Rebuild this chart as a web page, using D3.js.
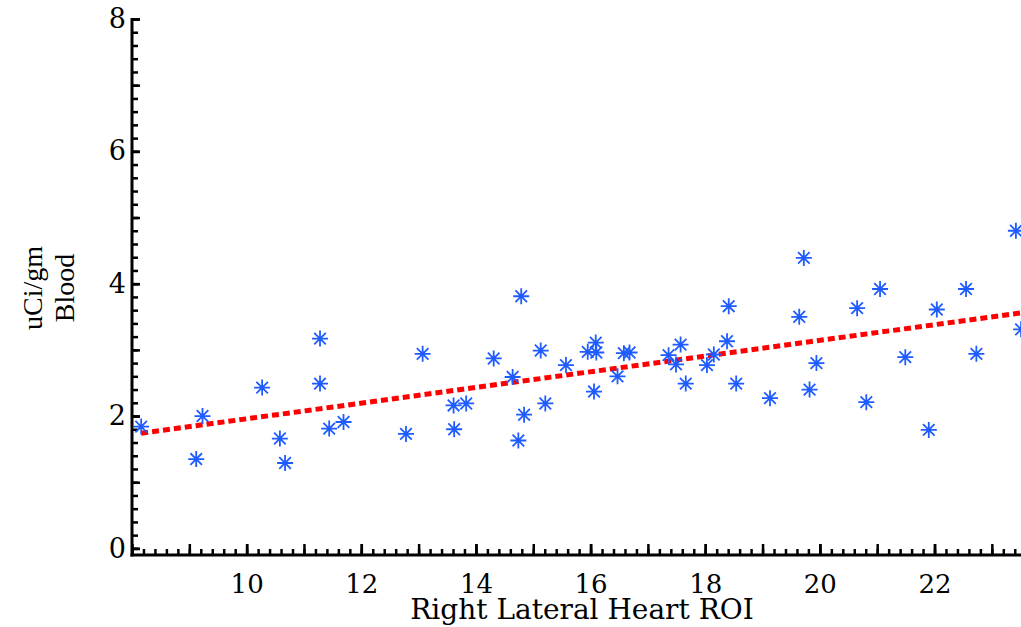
<!DOCTYPE html>
<html>
<head>
<meta charset="utf-8">
<script src="https://cdn.jsdelivr.net/npm/d3@7"></script>
<style>
  body { margin: 0; background: #fff; }
  svg { display: block; }
  .tick text { font-family: "DejaVu Serif", serif; fill: #000; }
</style>
</head>
<body>
<svg id="chart" width="1021" height="627"></svg>
<script>
// ---- data ----
const xVals = [8.16, 9.12, 9.23, 10.27, 10.58, 10.67, 11.28, 11.28, 11.44, 11.69,
               12.78, 13.07, 13.61, 13.62, 13.83, 14.31, 14.64, 14.74, 14.79, 14.84,
               15.13, 15.21, 15.57, 15.95, 16.06, 16.09, 16.10, 16.47, 16.58, 16.68,
               17.36, 17.49, 17.57, 17.66, 18.03, 18.15, 18.38, 18.41, 18.54, 19.13,
               19.64, 19.72, 19.82, 19.94, 20.65, 20.81, 21.05, 21.49, 21.90, 22.04,
               22.55, 22.73, 23.42, 23.51];
const yVals = [1.84, 1.35, 2.00, 2.43, 1.66, 1.29, 3.17, 2.49, 1.81, 1.91,
               1.73, 2.94, 2.16, 1.80, 2.19, 2.87, 2.59, 1.63, 3.81, 2.02,
               2.99, 2.19, 2.77, 2.97, 2.37, 3.11, 2.96, 2.60, 2.95, 2.96,
               2.92, 2.78, 3.08, 2.49, 2.77, 2.93, 3.13, 3.66, 2.49, 2.27,
               3.50, 4.39, 2.40, 2.80, 3.63, 2.21, 3.92, 2.89, 1.79, 3.61,
               3.92, 2.94, 4.80, 3.31];
// linear fit endpoints
const fitX = [8.16, 23.6];
const fitY = [1.74, 3.57];

const xLabelTicks = [10, 12, 14, 16, 18, 20, 22];
const yLabelTicks = [0, 2, 4, 6, 8];
const xTitle = "Right Lateral Heart ROI";
const yTitleLines = ["uCi/gm", "Blood"];

// ---- layout ----
const svg = d3.select("#chart");
const mLeft = 132, mRight = 1020.5, mTop = 19, mBottom = 555;

const x = d3.scaleLinear().domain([8, 23.5]).range([mLeft, mRight]);
const y = d3.scaleLinear().domain([-0.1, 8]).range([mBottom, mTop]);

const xMinor = d3.range(8, 23.6, 0.2).map(v => +v.toFixed(1));
const xMajor = d3.range(8, 24, 1);
const yMinor = d3.range(0, 8.01, 0.2).map(v => +v.toFixed(1));
const yMajor = d3.range(0, 9, 1);

function styleAxis(g) {
  g.select(".domain").remove();
  g.selectAll(".tick line").attr("stroke", "#000").attr("stroke-width", 2.5);
}

// x axis ticks (pointing up into the plot)
svg.append("g").attr("transform", `translate(0,${mBottom})`)
  .call(d3.axisBottom(x).tickValues(xMinor).tickSizeInner(-6).tickFormat(""))
  .call(styleAxis);
svg.append("g").attr("transform", `translate(0,${mBottom})`)
  .call(d3.axisBottom(x).tickValues(xMajor).tickSizeInner(-11).tickFormat(""))
  .call(styleAxis);
svg.append("g").attr("transform", `translate(0,${mBottom})`)
  .call(d3.axisBottom(x).tickValues(xLabelTicks).tickSizeInner(-11).tickPadding(20).tickFormat(d3.format("d")))
  .call(styleAxis)
  .call(g => g.selectAll("text").attr("font-size", 26));

// y axis ticks (pointing right into the plot)
svg.append("g").attr("transform", `translate(${mLeft},0)`)
  .call(d3.axisLeft(y).tickValues(yMinor).tickSizeInner(-6).tickFormat(""))
  .call(styleAxis);
svg.append("g").attr("transform", `translate(${mLeft},0)`)
  .call(d3.axisLeft(y).tickValues(yMajor).tickSizeInner(-8).tickFormat(""))
  .call(styleAxis);
svg.append("g").attr("transform", `translate(${mLeft},0)`)
  .call(d3.axisLeft(y).tickValues(yLabelTicks).tickSizeInner(-8).tickPadding(6).tickFormat(d3.format("d")))
  .call(styleAxis)
  .call(g => g.selectAll("text").attr("font-size", 27));

// axis lines
svg.append("line").attr("x1", mLeft).attr("x2", mLeft).attr("y1", mTop - 1).attr("y2", mBottom + 1.5)
  .attr("stroke", "#000").attr("stroke-width", 3);
svg.append("line").attr("x1", mLeft - 1.5).attr("x2", 1021).attr("y1", mBottom).attr("y2", mBottom)
  .attr("stroke", "#000").attr("stroke-width", 3);

// fit line
svg.append("path")
  .datum(d3.zip(fitX, fitY))
  .attr("d", d3.line().x(d => x(d[0])).y(d => y(d[1])))
  .attr("fill", "none")
  .attr("stroke", "#ff0000")
  .attr("stroke-width", 5)
  .attr("stroke-dasharray", "7,4");

// asterisk markers
const r = 8, rd = 5.8;
const star = `M${-r},0L${r},0M0,${-r}L0,${r}M${-rd},${-rd}L${rd},${rd}M${-rd},${rd}L${rd},${-rd}`;
svg.append("g").selectAll("path")
  .data(d3.zip(xVals, yVals))
  .enter()
  .append("path")
  .attr("transform", d => `translate(${x(d[0])},${y(d[1])})`)
  .attr("d", star)
  .attr("fill", "none")
  .attr("stroke", "#1f5cff")
  .attr("stroke-width", 1.8);

// titles
svg.append("text")
  .attr("x", 582).attr("y", 619)
  .attr("text-anchor", "middle")
  .attr("font-family", "DejaVu Serif, serif")
  .attr("font-size", 28)
  .text(xTitle);

const yt = svg.append("text")
  .attr("transform", "translate(0,288) rotate(-90)")
  .attr("text-anchor", "middle")
  .attr("font-family", "Liberation Serif, serif")
  .attr("font-size", 28);
yt.append("tspan").attr("x", 0).attr("y", 42).text(yTitleLines[0]);
yt.append("tspan").attr("x", 0).attr("y", 74).text(yTitleLines[1]);
</script>
</body>
</html>
